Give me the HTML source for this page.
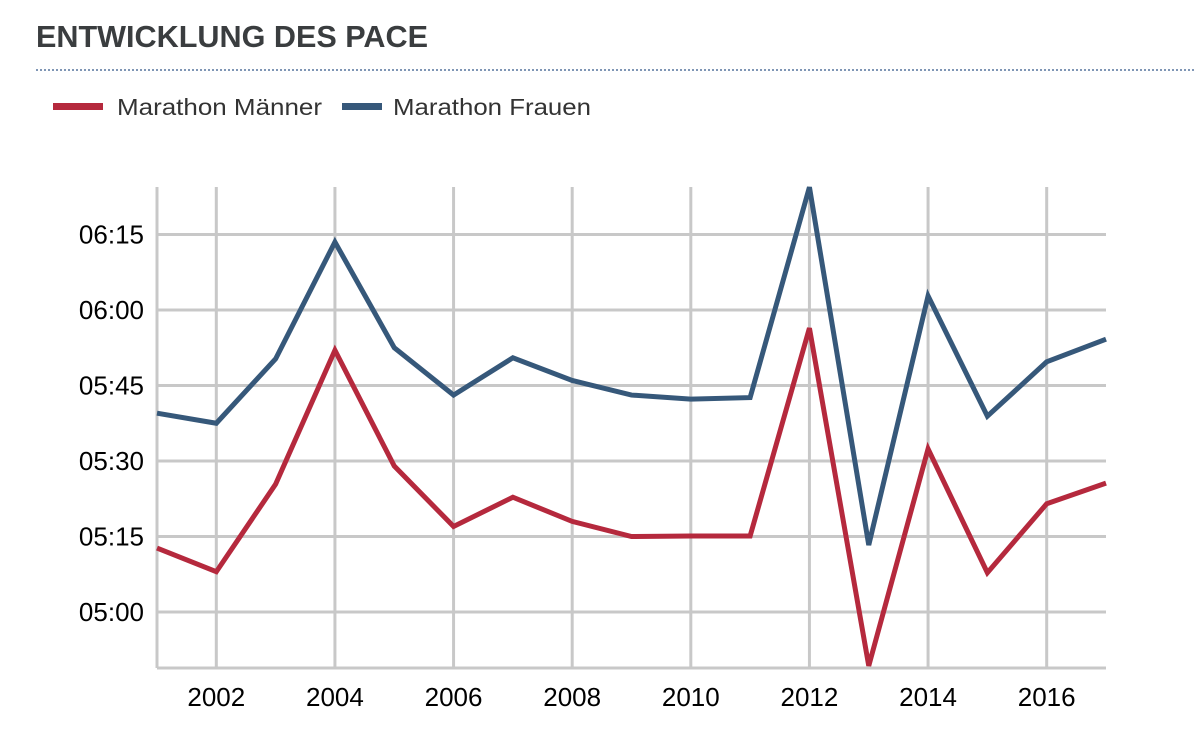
<!DOCTYPE html>
<html><head><meta charset="utf-8"><style>
html,body{margin:0;padding:0;background:#fff;}
svg{display:block;font-family:"Liberation Sans",sans-serif;}
</style></head><body>
<svg width="1196" height="738" viewBox="0 0 1196 738">
<text x="36" y="47" font-size="31" font-weight="bold" fill="#3a3d3f" textLength="392" lengthAdjust="spacingAndGlyphs">ENTWICKLUNG DES PACE</text>
<line x1="36" y1="70" x2="1196" y2="70" stroke="#7f96b5" stroke-width="2" stroke-dasharray="2,2"/>
<g>
<g>
<rect x="53" y="103" width="50" height="7" fill="#b5293d"/>
<text x="117" y="115" font-size="23" fill="#333" textLength="205" lengthAdjust="spacingAndGlyphs">Marathon Männer</text></g>
<g>
<rect x="342" y="103" width="40" height="7" fill="#36587a"/>
<text x="393" y="115" font-size="23" fill="#333" textLength="198" lengthAdjust="spacingAndGlyphs">Marathon Frauen</text></g>
</g>
<g id="grid"></g><g id="axes"></g><g id="series"></g>
</svg>
<script>
const years=[2001,2002,2003,2004,2005,2006,2007,2008,2009,2010,2011,2012,2013,2014,2015,2016,2017];
// pace in seconds per km
const men=[312.7,308,325.4,352,329,317,322.8,318,315,315.1,315.1,356.4,289.3,332.4,307.8,321.5,325.6];
const women=[339.5,337.5,350.3,373.5,352.5,343.1,350.5,346,343.1,342.3,342.6,384.4,313.3,362.8,338.9,349.7,354.2];
const xTicks=[2002,2004,2006,2008,2010,2012,2014,2016];
const yTicks=[300,315,330,345,360,375];
const yTickLabels=["05:00","05:15","05:30","05:45","06:00","06:15"];
const NS="http://www.w3.org/2000/svg";
const X0=157,X1=1106,Y0=187,Y1=668;
const xs=v=>X0+(v-2001)/(2017-2001)*(X1-X0);
const ys=v=>612-(v-300)*(75.5/15);
function mk(tag,attrs,parent){const e=document.createElementNS(NS,tag);for(const k in attrs)e.setAttribute(k,attrs[k]);parent.appendChild(e);return e;}
const grid=document.getElementById('grid'),axes=document.getElementById('axes'),series=document.getElementById('series');
xTicks.forEach(t=>{
 const l=mk('line',{x1:xs(t),x2:xs(t),y1:Y0,y2:Y1,stroke:'#c8c8c8','stroke-width':3},grid);
 
 
 const tx=mk('text',{x:xs(t),y:706,'font-size':26,'text-anchor':'middle',fill:'#000'},axes);
 tx.textContent=t;
 
 
});
yTicks.forEach((t,i)=>{
 const l=mk('line',{x1:X0,x2:X1,y1:ys(t),y2:ys(t),stroke:'#c8c8c8','stroke-width':3},grid);
 
 
 const tx=mk('text',{x:144,y:ys(t)+9,'font-size':26,'text-anchor':'end',fill:'#000'},axes);
 tx.textContent=yTickLabels[i];
 
 
});
const ya=mk('line',{x1:X0,x2:X0,y1:Y0,y2:Y1,stroke:'#c8c8c8','stroke-width':3},axes);


const xa=mk('line',{x1:X0,x2:X1,y1:Y1,y2:Y1,stroke:'#c8c8c8','stroke-width':3},axes);


function line(vals,color,name){
 const p=mk('polyline',{points:vals.map((v,i)=>xs(years[i])+','+ys(v)).join(' '),fill:'none',stroke:color,'stroke-width':5,'stroke-linejoin':'miter'},series);
 
 
}
line(women,'#36587a','series-frauen');
line(men,'#b5293d','series-maenner');
</script>
</body></html>
